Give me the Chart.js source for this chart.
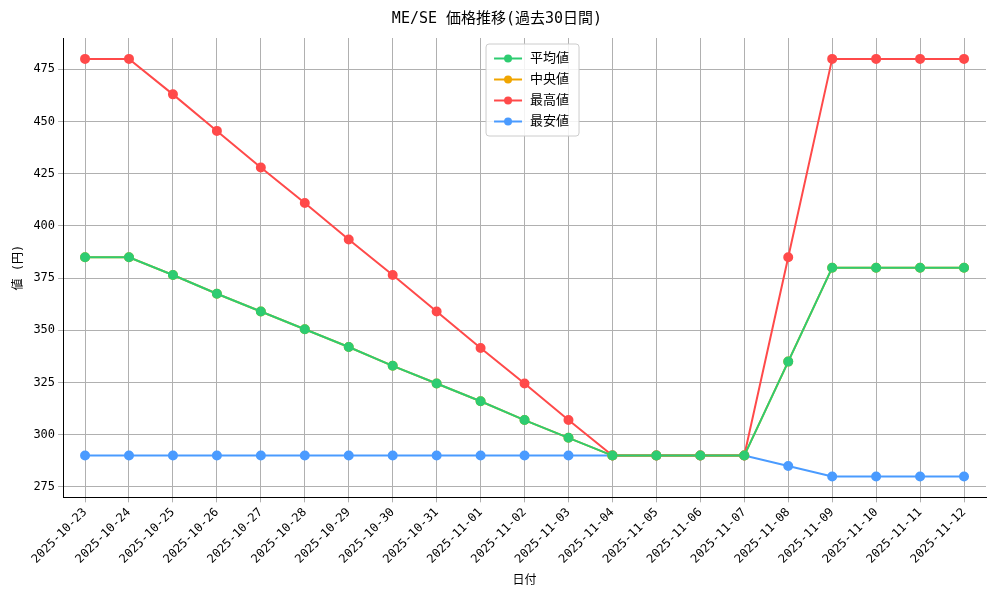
<!DOCTYPE html>
<html>
<head>
<meta charset="utf-8">
<script src="https://cdn.jsdelivr.net/npm/chart.js@4"></script>
<style>
  body { margin: 0; background: #fff; }
</style>
</head>
<body>
<canvas id="c" width="1000" height="600"></canvas>
<script>
// データ
const dates = [
  "2025-10-23", "2025-10-24", "2025-10-25", "2025-10-26", "2025-10-27", "2025-10-28", "2025-10-29",
  "2025-10-30", "2025-10-31", "2025-11-01", "2025-11-02", "2025-11-03", "2025-11-04", "2025-11-05",
  "2025-11-06", "2025-11-07", "2025-11-08", "2025-11-09", "2025-11-10", "2025-11-11", "2025-11-12"
];
const avgValues = [385, 385, 376.5, 367.5, 359, 350.5, 342, 333, 324.5, 316, 307, 298.5, 290, 290, 290, 290, 335, 380, 380, 380, 380];
const medianValues = [385, 385, 376.5, 367.5, 359, 350.5, 342, 333, 324.5, 316, 307, 298.5, 290, 290, 290, 290, 335, 380, 380, 380, 380];
const maxValues = [480, 480, 463, 445.5, 428, 411, 393.5, 376.5, 359, 341.5, 324.5, 307, 290, 290, 290, 290, 385, 480, 480, 480, 480];
const minValues = [290, 290, 290, 290, 290, 290, 290, 290, 290, 290, 290, 290, 290, 290, 290, 290, 285, 280, 280, 280, 280];
const yTicks = [275, 300, 325, 350, 375, 400, 425, 450, 475];

const FONT = "'DejaVu Sans Mono', 'Noto Sans CJK JP', monospace";

function ds(label, data, color) {
  return {
    label, data,
    borderColor: color, backgroundColor: color,
    pointBackgroundColor: color, pointBorderColor: color,
    borderWidth: 2, pointRadius: 4, pointHoverRadius: 4, tension: 0
  };
}

// 凡例（グラフ内上部中央）
const innerLegend = {
  id: "innerLegend",
  afterDraw(chart) {
    const ctx = chart.ctx;
    const area = chart.chartArea;
    const items = chart.data.datasets;
    const w = 93, rowH = 21, h = items.length * rowH + 8;
    const x = (area.left + area.right) / 2 - w / 2 + 8, y = area.top + 6;
    ctx.save();
    ctx.fillStyle = "rgba(255,255,255,0.85)";
    ctx.strokeStyle = "#ccc";
    ctx.lineWidth = 1;
    ctx.beginPath();
    ctx.roundRect(x, y, w, h, 3);
    ctx.fill();
    ctx.stroke();
    ctx.font = "13px " + FONT;
    ctx.textBaseline = "middle";
    items.forEach((d, i) => {
      const cy = y + 4 + rowH * i + rowH / 2;
      ctx.strokeStyle = d.borderColor;
      ctx.lineWidth = 2;
      ctx.beginPath();
      ctx.moveTo(x + 8, cy);
      ctx.lineTo(x + 36, cy);
      ctx.stroke();
      ctx.fillStyle = d.borderColor;
      ctx.beginPath();
      ctx.arc(x + 22, cy, 4, 0, Math.PI * 2);
      ctx.fill();
      ctx.fillStyle = "#000";
      ctx.fillText(d.label, x + 44, cy);
    });
    ctx.restore();
  }
};

new Chart(document.getElementById("c"), {
  type: "line",
  data: {
    labels: dates,
    datasets: [
      ds("平均値", avgValues, "#2ecc71"),
      ds("中央値", medianValues, "#f0a500"),
      ds("最高値", maxValues, "#ff4a4a"),
      ds("最安値", minValues, "#4a9bff")
    ]
  },
  options: {
    responsive: false,
    animation: false,
    devicePixelRatio: 1,
    layout: { padding: { left: 8, right: 14, top: 6, bottom: 8 } },
    plugins: {
      legend: { display: false },
      tooltip: { enabled: false },
      title: {
        display: true,
        text: "ME/SE 価格推移(過去30日間)",
        color: "#000",
        font: { family: FONT, size: 15, weight: "normal" },
        padding: { top: 4, bottom: 10 }
      }
    },
    scales: {
      x: {
        offset: true,
        grid: { offset: false, color: "#b0b0b0", tickLength: 5 },
        border: { color: "#000" },
        ticks: { color: "#000", maxRotation: 45, minRotation: 45, autoSkip: false, font: { family: FONT, size: 12 } },
        title: { display: true, text: "日付", color: "#000", font: { family: FONT, size: 12 } }
      },
      y: {
        min: 270, max: 490,
        grid: { color: "#b0b0b0", tickLength: 5 },
        border: { color: "#000" },
        ticks: { color: "#000", font: { family: FONT, size: 12 } },
        afterBuildTicks(axis) {
          axis.ticks = yTicks.map(v => ({ value: v }));
        },
        title: { display: true, text: "値 (円)", color: "#000", font: { family: FONT, size: 12 } }
      }
    }
  },
  plugins: [innerLegend]
});
</script>
</body>
</html>
